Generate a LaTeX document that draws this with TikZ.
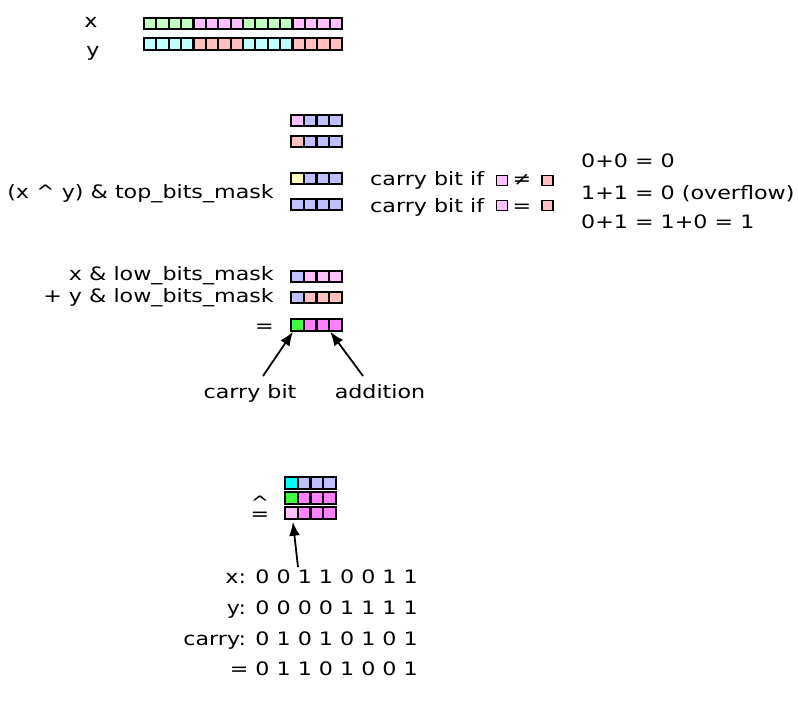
\documentclass[tikz,border=0pt]{standalone}
\usepackage{fontspec}
\setmainfont[FakeStretch=1.2]{DejaVu Sans}
\usetikzlibrary{arrows.meta,calc}
\definecolor{lgreen}{HTML}{C0FFC0}
\definecolor{lpink}{HTML}{FFC0FF}
\definecolor{lcyan}{HTML}{C0FFFF}
\definecolor{lsalmon}{HTML}{FFC0C0}
\definecolor{lblue}{HTML}{C0C0FF}
\definecolor{lyellow}{HTML}{FFFFC0}
\definecolor{bgreen}{HTML}{40FF40}
\definecolor{bmag}{HTML}{FF80FF}
\definecolor{bcyan}{HTML}{00FFFF}
\tikzset{
  cell/.style={draw=black, line width=2.2pt, minimum height=11.5pt, inner sep=0pt, outer sep=0pt},
  sq/.style={draw=black, line width=1.6pt, minimum width=11pt, minimum height=10pt, inner sep=0pt},
  lbl/.style={font=\fontsize{18.5}{20}\selectfont, inner sep=0pt},
  arr/.style={line width=1.8pt, -{Latex[length=14pt,width=11pt]}},
}
\newcommand\cellrow[5]{%
  \foreach \c [count=\i] in {#5} {%
    \node[cell, fill=\c, minimum width=#4pt] (#1-\i) at ({#2+(\i-0.5)*#4},#3) {};}}
\begin{document}
\begin{tikzpicture}[x=1pt,y=-1pt]
\useasboundingbox (0,0) rectangle (798,701);
% top rows
\node[lbl, anchor=base] (lx) at (91,28) {x};
\node[lbl, anchor=base] (ly) at (93,57) {y};
\cellrow{rx}{144}{23.5}{12.375}{lgreen,lgreen,lgreen,lgreen,lpink,lpink,lpink,lpink,lgreen,lgreen,lgreen,lgreen,lpink,lpink,lpink,lpink}
\cellrow{ry}{144}{44}{12.375}{lcyan,lcyan,lcyan,lcyan,lsalmon,lsalmon,lsalmon,lsalmon,lcyan,lcyan,lcyan,lcyan,lsalmon,lsalmon,lsalmon,lsalmon}
% mask rows
\cellrow{ra}{291}{120.5}{12.75}{lpink,lblue,lblue,lblue}
\cellrow{rb}{291}{141.5}{12.75}{lsalmon,lblue,lblue,lblue}
\cellrow{rc}{291}{178.5}{12.75}{lyellow,lblue,lblue,lblue}
\cellrow{rd}{291}{204.5}{12.75}{lblue,lblue,lblue,lblue}
\node[lbl, anchor=base east] (tb) at (274,198) {(x \textasciicircum{} y) \& top\_bits\_mask};
% carry bit if
\node[lbl, anchor=base west] (c1) at (370,185) {carry bit if};
\node[sq, fill=lpink] (s1a) at (502,180.5) {};
\node[lbl, anchor=base] (ne) at (522,185) {≠};
\node[sq, fill=lsalmon] (s1b) at (547.5,180.5) {};
\node[lbl, anchor=base west] (c2) at (370,212) {carry bit if};
\node[sq, fill=lpink] (s2a) at (502,205.5) {};
\node[lbl, anchor=base] (eqs) at (522,212) {=};
\node[sq, fill=lsalmon] (s2b) at (547.5,205.5) {};
% sums
\node[lbl, anchor=base west] (e1) at (581,167) {0+0 = 0};
\node[lbl, anchor=base west] (e2) at (581,199) {1+1 = 0 (overflow)};
\node[lbl, anchor=base west] (e3) at (581,228) {0+1 = 1+0 = 1};
% low bits
\node[lbl, anchor=base east] (l1) at (274,280) {x \& low\_bits\_mask};
\node[lbl, anchor=base east] (l2) at (274,302) {+ y \& low\_bits\_mask};
\node[lbl, anchor=base east] (l3) at (274,332) {=};
\cellrow{re}{291}{276.5}{12.75}{lblue,lpink,lpink,lpink}
\cellrow{rf}{291}{297.5}{12.75}{lblue,lsalmon,lsalmon,lsalmon}
\cellrow{rg}{291}{325}{12.75}{bgreen,bmag,bmag,bmag}
\node[lbl, anchor=base] (cb) at (250,398) {carry bit};
\node[lbl, anchor=base] (ad) at (380,398) {addition};
\coordinate (t1) at (263,376);
\coordinate (t2) at (363,376);
\draw[arr] (t1) -- ($(rg-1.south west)+(2,1)$);
\draw[arr] (t2) -- ($(rg-3.south east)+(1,1)$);
% xor
\cellrow{rh}{285}{483}{12.75}{bcyan,lblue,lblue,lblue}
\cellrow{ri}{285}{498}{12.75}{bgreen,bmag,bmag,bmag}
\cellrow{rj}{285}{513}{12.75}{lpink,bmag,bmag,bmag}
\node[lbl, anchor=base, align=center, font=\fontsize{18.5}{11}\selectfont] (xeq) at (260,520) {\textasciicircum\\=};
\coordinate (t3) at (298,567);
\draw[arr] (t3) -- ($(rj-1.south)+(1.5,3)$);
% bits
\node[lbl, anchor=base east] (bx) at (418,583) {x: 0 0 1 1 0 0 1 1};
\node[lbl, anchor=base east] (by) at (418,614) {y: 0 0 0 0 1 1 1 1};
\node[lbl, anchor=base east] (bc) at (418,645) {carry: 0 1 0 1 0 1 0 1};
\node[lbl, anchor=base east] (be) at (418,675) {= 0 1 1 0 1 0 0 1};
\end{tikzpicture}
\end{document}
